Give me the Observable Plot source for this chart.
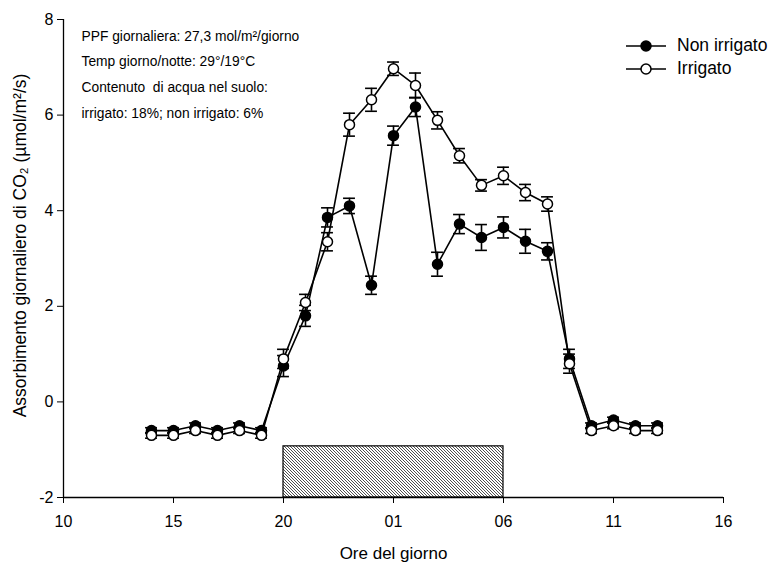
<!DOCTYPE html>
<html>
<head>
<meta charset="utf-8">
<script src="https://cdn.jsdelivr.net/npm/d3@7"></script>
<script src="https://cdn.jsdelivr.net/npm/@observablehq/plot@0.6"></script>
<style>
  body { margin: 0; background: #fff; }
  #chart { position: relative; width: 770px; height: 565px; font-family: "Liberation Sans", Arial, sans-serif; color: #000; }
  #legend { position: absolute; left: 624px; top: 34px; font-size: 17.5px; line-height: 23px; }
  #legend div { display: flex; align-items: center; }
  #legend svg { margin-right: 9px; }
</style>
</head>
<body>
<div id="chart">
  <div id="legend"></div>
</div>
<script>
// Ora del giorno (ore continue: 24 = mezzanotte, 37 = 13:00 del giorno dopo)
const hours = [14, 15, 16, 17, 18, 19, 20, 21, 22, 23, 24, 25, 26, 27, 28, 29, 30, 31, 32, 33, 34, 35, 36, 37];

// Etichette dell'asse x
const tickValues = [10, 15, 20, 25, 30, 35, 40];
const tickLabels = ["10", "15", "20", "01", "06", "11", "16"];
const yTicks = [-2, 0, 2, 4, 6, 8];

// Assorbimento di CO2 (µmol/m²/s) e errore standard
const nonIrrigato    = [-0.6, -0.6, -0.5, -0.6, -0.5, -0.6, 0.75, 1.8, 3.86, 4.1, 2.44, 5.57, 6.17, 2.88, 3.72, 3.44, 3.65, 3.36, 3.15, 0.9, -0.5, -0.38, -0.5, -0.5];
const nonIrrigatoErr = [0.06, 0.06, 0.06, 0.06, 0.06, 0.06, 0.22, 0.22, 0.2, 0.16, 0.19, 0.2, 0.2, 0.25, 0.2, 0.27, 0.22, 0.25, 0.18, 0.2, 0.06, 0.06, 0.06, 0.06];
const irrigato       = [-0.7, -0.7, -0.6, -0.7, -0.6, -0.7, 0.9, 2.08, 3.35, 5.8, 6.32, 6.97, 6.62, 5.89, 5.15, 4.53, 4.73, 4.38, 4.14, 0.8, -0.6, -0.5, -0.6, -0.6];
const irrigatoErr    = [0.06, 0.06, 0.06, 0.06, 0.06, 0.06, 0.2, 0.17, 0.19, 0.24, 0.24, 0.14, 0.26, 0.18, 0.15, 0.12, 0.18, 0.17, 0.15, 0.2, 0.06, 0.06, 0.06, 0.06];

// Periodo di buio (20:00 - 06:00)
const darkStart = 20;
const darkEnd = 30;
const darkTop = -0.93;

const notes = [
  "PPF giornaliera: 27,3 mol/m²/giorno",
  "Temp giorno/notte: 29°/19°C",
  "Contenuto  di acqua nel suolo:",
  "irrigato: 18%; non irrigato: 6%"
];

const xLabel = "Ore del giorno";
const yLabel = "Assorbimento giornaliero di CO₂ (µmol/m²/s)";
const seriesNames = ["Non irrigato", "Irrigato"];

const rows = (values, errs, name) => hours.map((h, i) => ({hour: h, value: values[i], err: errs[i], series: name}));
const dry = rows(nonIrrigato, nonIrrigatoErr, seriesNames[0]);
const wet = rows(irrigato, irrigatoErr, seriesNames[1]);

const capHalf = 0.27;
const seriesMarks = (data, fill) => [
  Plot.line(data, {x: "hour", y: "value", stroke: "black", strokeWidth: 1.6}),
  Plot.ruleX(data, {x: "hour", y1: d => d.value - d.err, y2: d => d.value + d.err, stroke: "black", strokeWidth: 1.6}),
  Plot.ruleY(data, {y: d => d.value + d.err, x1: d => d.hour - capHalf, x2: d => d.hour + capHalf, stroke: "black", strokeWidth: 1.6}),
  Plot.ruleY(data, {y: d => d.value - d.err, x1: d => d.hour - capHalf, x2: d => d.hour + capHalf, stroke: "black", strokeWidth: 1.6}),
  Plot.dot(data, {x: "hour", y: "value", r: 5, fill, stroke: "black", strokeWidth: 1.5})
];

const chart = Plot.plot({
  width: 770,
  height: 565,
  marginLeft: 63,
  marginRight: 47,
  marginTop: 19,
  marginBottom: 68,
  style: {fontFamily: "'Liberation Sans', Arial, sans-serif", fontSize: "16px", color: "#000", background: "#fff"},
  x: {
    domain: [10, 40],
    ticks: tickValues,
    tickFormat: d => tickLabels[tickValues.indexOf(d)],
    tickSize: 6,
    tickPadding: 12,
    label: null
  },
  y: {
    domain: [-2, 8],
    ticks: yTicks,
    tickFormat: d => String(d),
    tickSize: 6,
    tickPadding: 4,
    label: null
  },
  marks: [
    Plot.rect([{x1: darkStart, x2: darkEnd, y1: -2, y2: darkTop}], {x1: "x1", x2: "x2", y1: "y1", y2: "y2", fill: "url(#hatch)", stroke: "black", strokeWidth: 1.2}),
    Plot.ruleX([10], {y1: -2, y2: 8, stroke: "black", strokeWidth: 1.3}),
    Plot.ruleY([-2], {x1: 10, x2: 40, stroke: "black", strokeWidth: 1.3}),
    Plot.text([notes.join("\n")], {frameAnchor: "top-left", dx: 18, dy: 3, textAnchor: "start", lineAnchor: "top", lineHeight: 1.86, fontSize: 13.8}),
    Plot.text([xLabel], {frameAnchor: "bottom", dy: 61, fontSize: 17}),
    Plot.text([yLabel], {frameAnchor: "left", textAnchor: "middle", dx: -43, dy: -13, rotate: -90, fontSize: 17.5}),
    ...seriesMarks(dry, "black"),
    ...seriesMarks(wet, "white")
  ]
});

// Tratteggio diagonale per il periodo di buio
const svg = d3.select(chart);
const pattern = svg.insert("defs", ":first-child")
  .append("pattern")
  .attr("id", "hatch")
  .attr("patternUnits", "userSpaceOnUse")
  .attr("width", 3)
  .attr("height", 3);
pattern.append("rect").attr("width", 3).attr("height", 3).attr("fill", "white");
pattern.append("path")
  .attr("d", "M-1,-1L4,4M-1,2L1,4M2,-1L4,1")
  .attr("stroke", "#222")
  .attr("stroke-width", 0.8);

document.getElementById("chart").prepend(chart);

// Legenda
const legend = d3.select("#legend");
[["black", seriesNames[0]], ["white", seriesNames[1]]].forEach(([fill, name]) => {
  const row = legend.append("div");
  const s = row.append("svg").attr("width", 44).attr("height", 14);
  s.append("line").attr("x1", 2).attr("x2", 42).attr("y1", 7).attr("y2", 7).attr("stroke", "black").attr("stroke-width", 1.6);
  s.append("circle").attr("cx", 22).attr("cy", 7).attr("r", 5).attr("fill", fill).attr("stroke", "black").attr("stroke-width", 1.5);
  row.append("span").text(name);
});
</script>
</body>
</html>
